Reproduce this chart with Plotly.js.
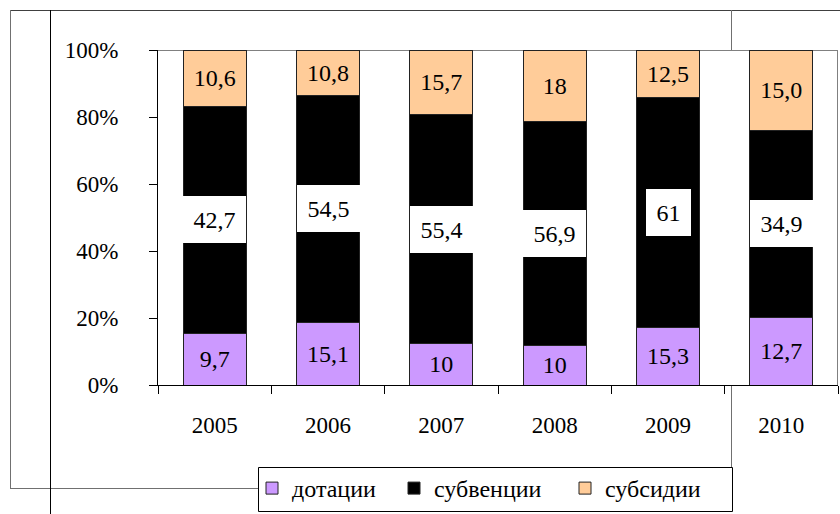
<!DOCTYPE html>
<html><head><meta charset="utf-8">
<script src="https://cdn.plot.ly/plotly-3.0.1.min.js"></script>
<style>body{margin:0;background:#fff}#chart{width:840px;height:514px}</style>
</head><body><div id="chart"></div>
<script>
const years = ['2005','2006','2007','2008','2009','2010'];
const dotacii = [9.7, 15.1, 10, 10, 15.3, 12.7];
const subvencii = [42.7, 54.5, 55.4, 56.9, 61, 34.9];
const subsidii = [10.6, 10.8, 15.7, 18, 12.5, 15.0];
const dotaciiLabels = ['9,7','15,1','10','10','15,3','12,7'];
const subvenciiLabels = ['42,7','54,5','55,4','56,9','61','34,9'];
const subsidiiLabels = ['10,6','10,8','15,7','18','12,5','15,0'];
const seriesNames = ['дотации','субвенции','субсидии'];
const yTickVals = [0,20,40,60,80,100];
const yTickText = ['0%','20%','40%','60%','80%','100%'];

const FONT = "'Liberation Serif', 'Times New Roman', serif";
const W = 840, H = 514, ML = 158, MR = 2, MT = 50, MB = 129;
const PW = W - ML - MR, PH = H - MT - MB;
const px = x => (x - ML) / PW;
const py = y => (H - MB - y) / PH;

function barTrace(name, vals, labels, color, lw) {
  return {
    type: 'bar', name: name, x: years, y: vals,
    text: labels || undefined, texttemplate: labels ? '%{text}' : '',
    textposition: labels ? 'inside' : 'none',
    insidetextanchor: 'middle', textangle: 0,
    constraintext: 'none',
    textfont: {family: FONT, size: 24, color: '#000'},
    insidetextfont: {family: FONT, size: 24, color: '#000'},
    marker: {color: color, line: {color: '#222', width: 1}},
    legendwidth: lw,
    hoverinfo: 'skip'
  };
}

const traces = [
  barTrace(seriesNames[0], dotacii, dotaciiLabels, '#CC99FF', 97),
  barTrace(seriesNames[1], subvencii, null, '#000000', 126),
  barTrace(seriesNames[2], subsidii, subsidiiLabels, '#FFCC99', 100)
];

const annotations = years.map((yr, i) => {
  const tot = dotacii[i] + subvencii[i] + subsidii[i];
  const mid = (dotacii[i] + subvencii[i] / 2) / tot * 100;
  return {
    x: i, y: mid, xref: 'x', yref: 'y', text: subvenciiLabels[i],
    showarrow: false, bgcolor: '#fff', borderpad: 10.5, borderwidth: 0,
    font: {family: FONT, size: 24, color: '#000'}
  };
});

function seg(x0, y0, x1, y1, color) {
  return {type: 'line', xref: 'paper', yref: 'paper', x0: px(x0), y0: py(y0), x1: px(x1), y1: py(y1),
          line: {color: color, width: 1}, layer: 'below'};
}
const shapes = [
  seg(10, 10.5, 840, 10.5, '#404040'),
  seg(10.5, 10, 10.5, 488, '#707070'),
  seg(10, 488.5, 258, 488.5, '#707070'),
  seg(731.5, 10, 731.5, 50, '#707070'),
  seg(731.5, 385, 731.5, 467, '#707070'),
  seg(50.5, 10, 50.5, 514, '#000000'),
  seg(158, 50.5, 837.5, 50.5, '#808080'),
  seg(837.5, 50, 837.5, 385, '#808080'),
  {type: 'rect', xref: 'paper', yref: 'paper', x0: px(258.5), y0: py(467.5), x1: px(732.5), y1: py(511.5),
   fillcolor: '#fff', line: {color: '#000', width: 1}, layer: 'above'}
];

const layout = {
  width: W, height: H,
  margin: {l: ML, r: MR, t: MT, b: MB, pad: 0},
  paper_bgcolor: '#fff', plot_bgcolor: '#fff',
  barmode: 'stack', barnorm: 'percent', bargap: 0.445,
  font: {family: FONT, size: 23, color: '#000'},
  showlegend: true,
  legend: {
    orientation: 'h', x: px(252), xanchor: 'left', y: py(466), yanchor: 'top',
    bgcolor: 'rgba(0,0,0,0)', borderwidth: 0,
    font: {family: FONT, size: 24, color: '#000'}, traceorder: 'normal'
  },
  xaxis: {
    type: 'category', categoryorder: 'array', categoryarray: years,
    range: [-0.5, years.length - 0.5], autorange: false,
    showline: true, linecolor: '#000', linewidth: 1,
    ticks: 'outside', tickson: 'boundaries', ticklen: 8, tickcolor: '#000',
    showgrid: false, zeroline: false, ticklabelstandoff: 19, tickangle: 0,
    tickfont: {family: FONT, size: 23, color: '#000'}, fixedrange: true
  },
  yaxis: {
    range: [0, 100], autorange: false, tickvals: yTickVals, ticktext: yTickText,
    showline: true, linecolor: '#000', linewidth: 1,
    ticks: 'outside', ticklen: 8, tickcolor: '#000',
    showgrid: false, zeroline: false, ticklabelstandoff: 26,
    tickfont: {family: FONT, size: 23, color: '#000'}, fixedrange: true
  },
  annotations: annotations,
  shapes: shapes
};

Plotly.newPlot('chart', traces, layout, {displayModeBar: false, staticPlot: true});
</script>
</body></html>
